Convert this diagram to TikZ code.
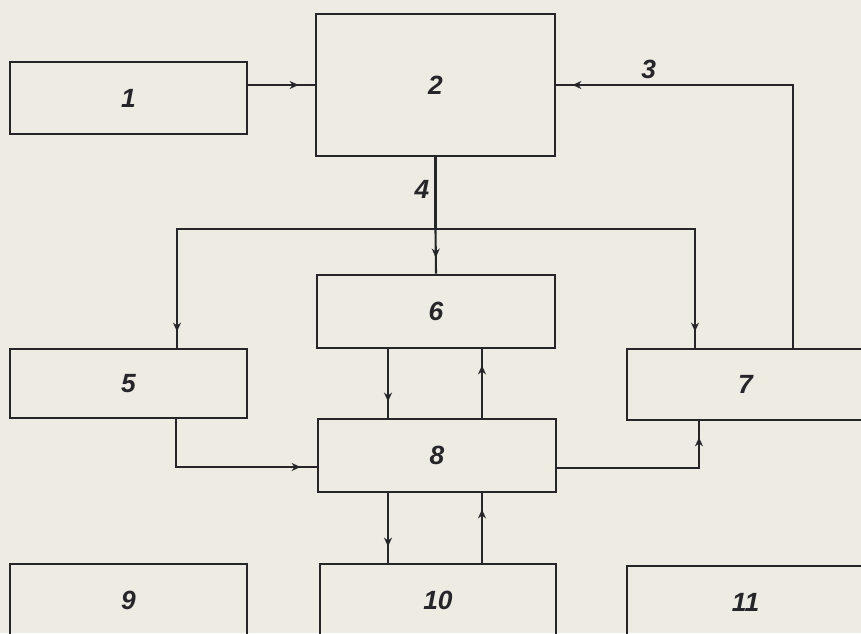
\documentclass[tikz,border=0pt]{standalone}
\usepackage{fontspec}
\setmainfont{Liberation Sans}
\usetikzlibrary{arrows.meta,positioning,calc,decorations.markings}
\definecolor{paper}{RGB}{238,235,227}
\definecolor{ink}{RGB}{38,38,42}
\tikzset{
  block/.style={draw=ink,line width=1.6pt,minimum width=4.74cm,minimum height=1.44cm,
    inner sep=0pt,font=\fontsize{15}{17}\selectfont\bfseries\itshape,text=ink},
  wire/.style={draw=ink,line width=1.2pt},
  flow/.style={wire,postaction={decorate},
    decoration={markings,mark=at position -3.2mm with {\arrow{Stealth[length=1.8mm,width=1.6mm]}}}},
  lbl/.style={font=\fontsize{15}{17}\selectfont\bfseries\itshape,text=ink,inner sep=3pt},
}
\begin{document}
\begin{tikzpicture}
  \useasboundingbox (0,0) rectangle (17.22,12.66);
  \clip (0,0) rectangle (17.22,12.66);
  \fill[paper] (0,0) rectangle (17.22,12.66);
  % blocks
  \node[block] (b1) at (2.57,10.70) {1};
  \node[block,minimum width=4.78cm,minimum height=2.84cm] (b2) at (8.71,10.96) {2};
  \node[block,minimum height=1.38cm] (b5) at (2.57,4.99) {5};
  \node[block,minimum width=4.76cm,minimum height=1.46cm] (b6) at (8.72,6.43) {6};
  \node[block,minimum height=1.42cm] (b7) at (14.91,4.97) {7};
  \node[block,minimum width=4.76cm,minimum height=1.46cm] (b8) at (8.74,3.55) {8};
  \node[block] (b9) at (2.57,0.66) {9};
  \node[block,minimum width=4.72cm] (b10) at (8.76,0.66) {10};
  \node[block] (b11) at (14.91,0.62) {11};
  % help points
  \coordinate (c3) at (15.86,10.96);
  \coordinate (jn) at (8.71,8.08);
  \coordinate (jl) at (3.54,8.08);
  \coordinate (jr) at (13.90,8.08);
  \coordinate (d5) at (3.52,3.32);
  \coordinate (d7) at (13.98,3.30);
  \coordinate (xa) at (7.76,0);
  \coordinate (xb) at (9.64,0);
  % connectors
  \draw[flow] (b1.east |- b2.west) -- (b2.west);
  \draw[flow] (c3 |- b7.north) -- (c3) -- node[lbl,above,pos=0.61] {3} (b2.east);
  \draw[wire] (b2.south) -- node[lbl,left,pos=0.45] {4} (jn);
  \draw[flow] (jn) -- (b6.north);
  \draw[flow] (jn) -- (jl) -- (jl |- b5.north);
  \draw[flow] (jn) -- (jr) -- (jr |- b7.north);
  \draw[flow] (xa |- b6.south) -- (xa |- b8.north);
  \draw[flow] (xb |- b8.north) -- (xb |- b6.south);
  \draw[flow] (d5 |- b5.south) -- (d5) -- (d5 -| b8.west);
  \draw[flow] (d7 -| b8.east) -- (d7) -- (d7 |- b7.south);
  \draw[flow] (xa |- b8.south) -- (xa |- b10.north);
  \draw[flow] (xb |- b10.north) -- (xb |- b8.south);
\end{tikzpicture}
\end{document}
